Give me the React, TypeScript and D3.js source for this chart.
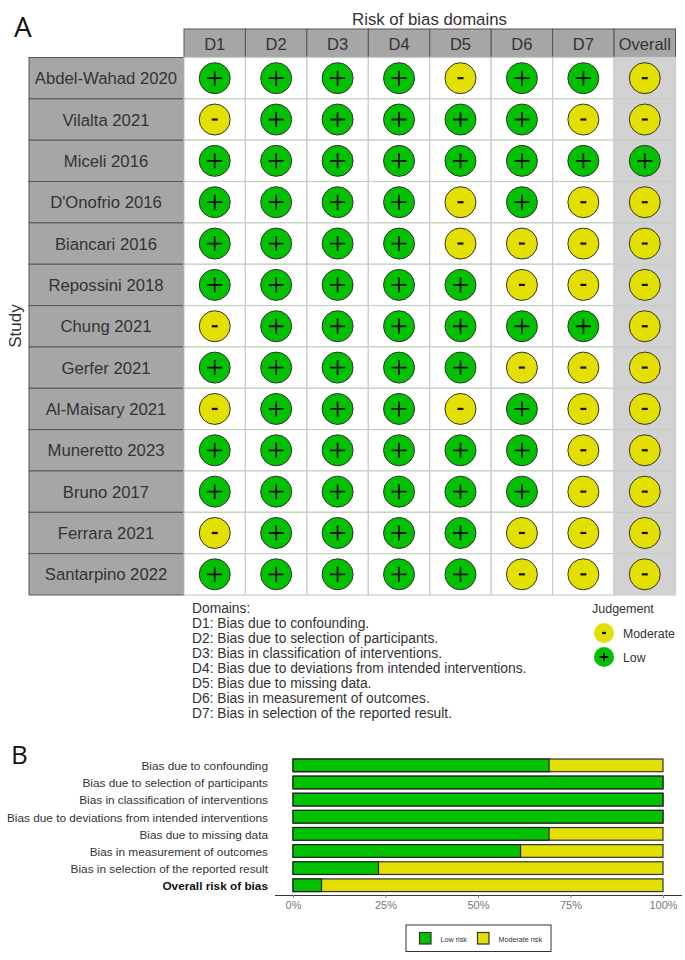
/**
 * Risk of bias figure: traffic light table (A) and summary bars (B)
 */

import { useEffect, useRef } from 'react'
import * as d3 from 'd3'

const domains = ['D1', 'D2', 'D3', 'D4', 'D5', 'D6', 'D7', 'Overall']
const studies = [
  'Abdel-Wahad 2020',
  'Vilalta 2021',
  'Miceli 2016',
  "D'Onofrio 2016",
  'Biancari 2016',
  'Repossini 2018',
  'Chung 2021',
  'Gerfer 2021',
  'Al-Maisary 2021',
  'Muneretto 2023',
  'Bruno 2017',
  'Ferrara 2021',
  'Santarpino 2022',
]
// one string per study, one judgement per domain
const judgements = [
  '++++-++-',
  '-+++++--',
  '++++++++',
  '++++-+--',
  '++++----',
  '+++++---',
  '-++++++-',
  '+++++---',
  '-+++-+--',
  '++++++--',
  '++++++--',
  '-++++---',
  '+++++---',
]
const domainNotes = [
  'Domains:',
  'D1: Bias due to confounding.',
  'D2: Bias due to selection of participants.',
  'D3: Bias in classification of interventions.',
  'D4: Bias due to deviations from intended interventions.',
  'D5: Bias due to missing data.',
  'D6: Bias in measurement of outcomes.',
  'D7: Bias in selection of the reported result.',
]
const barLabels = [
  'Bias due to confounding',
  'Bias due to selection of participants',
  'Bias in classification of interventions',
  'Bias due to deviations from intended interventions',
  'Bias due to missing data',
  'Bias in measurement of outcomes',
  'Bias in selection of the reported result',
  'Overall risk of bias',
]
const lowRisk = [69.2, 100, 100, 100, 69.2, 61.5, 23.1, 7.7]
const percentTicks = [0, 25, 50, 75, 100]

const GREEN = '#02c100'
const YELLOW = '#e3df00'
const FONT = '"Liberation Sans", Arial, sans-serif'
const INK = '#333333'

export default function App() {
  const svgRef = useRef<SVGSVGElement>(null)

  useEffect(() => {
    if (!svgRef.current) return
    const svg = d3.select(svgRef.current)
    svg.selectAll('*').remove()
    svg.style('font-family', FONT)

    // Panel letters
    svg.append('text').attr('x', 14).attr('y', 37).attr('font-size', 28)
      .attr('font-family', '"Open Sans", sans-serif').attr('fill', '#111').text('A')
    svg.append('text').attr('x', 11).attr('y', 764).attr('font-size', 26)
      .attr('font-family', '"Open Sans", sans-serif').attr('fill', '#111').text('B')

    // Panel A scales
    const xCol = d3.scaleBand<string>().domain(domains).range([184, 675.5])
    const yRow = d3.scaleBand<string>().domain(studies).range([57.5, 595])
    const radius = 15.5

    svg.append('text').attr('x', 429.5).attr('y', 24.5).attr('text-anchor', 'middle')
      .attr('font-size', 16.8).attr('fill', INK).text('Risk of bias domains')

    // Header strip
    const head = svg.append('g').selectAll('g').data(domains).join('g')
    head.append('rect')
      .attr('x', (d) => xCol(d)!)
      .attr('y', 29)
      .attr('width', xCol.bandwidth())
      .attr('height', 28.5)
      .attr('fill', '#a6a6a6')
      .attr('stroke', '#555')
      .attr('stroke-width', 1)
    head.append('text')
      .attr('x', (d) => xCol(d)! + xCol.bandwidth() / 2)
      .attr('y', 49.5)
      .attr('text-anchor', 'middle')
      .attr('font-size', 16.5)
      .attr('fill', INK)
      .text((d) => d)

    // Study strip
    const side = svg.append('g').selectAll('g').data(studies).join('g')
    side.append('rect')
      .attr('x', 29)
      .attr('y', (d) => yRow(d)!)
      .attr('width', 155)
      .attr('height', yRow.bandwidth())
      .attr('fill', '#a6a6a6')
      .attr('stroke', '#555')
      .attr('stroke-width', 1)
    side.append('text')
      .attr('x', 106)
      .attr('y', (d) => yRow(d)! + yRow.bandwidth() / 2 + 6)
      .attr('text-anchor', 'middle')
      .attr('font-size', 16.7)
      .attr('fill', INK)
      .text((d) => d)

    svg.append('text')
      .attr('transform', 'translate(21,326) rotate(-90)')
      .attr('text-anchor', 'middle')
      .attr('font-size', 17)
      .attr('fill', INK)
      .text('Study')

    // Table cells
    const cells = studies.flatMap((study, i) =>
      domains.map((domain, j) => ({ study, domain, value: judgements[i][j] }))
    )
    const cell = svg.append('g').selectAll('g').data(cells).join('g')
      .attr('transform', (d) => `translate(${xCol(d.domain)},${yRow(d.study)})`)
    cell.append('rect')
      .attr('width', xCol.bandwidth())
      .attr('height', yRow.bandwidth())
      .attr('fill', (d) => (d.domain === 'Overall' ? '#d2d2d2' : '#ffffff'))
      .attr('stroke', '#c4d0c0')
      .attr('stroke-width', 1.2)
    const cx = xCol.bandwidth() / 2
    const cy = yRow.bandwidth() / 2
    cell.append('circle')
      .attr('cx', cx)
      .attr('cy', cy)
      .attr('r', radius)
      .attr('fill', (d) => (d.value === '+' ? GREEN : YELLOW))
      .attr('stroke', '#333')
      .attr('stroke-width', 1)
    const drawSign = (
      sel: d3.Selection<any, { value: string }, any, any>,
      x: number,
      y: number,
      plus: number,
      minus: number
    ) => {
      sel.append('path')
        .attr('d', (d) =>
          d.value === '+'
            ? `M${x - plus},${y}H${x + plus}M${x},${y - plus}V${y + plus}`
            : `M${x - minus},${y}H${x + minus}`
        )
        .attr('stroke', '#111')
        .attr('stroke-width', (d) => (d.value === '+' ? 1.8 : 2.2))
        .attr('fill', 'none')
    }
    drawSign(cell, cx, cy, 7.5, 3)

    // Domain notes
    const yNote = d3.scaleBand<string>().domain(domainNotes).range([600, 720.5])
    svg.append('g').selectAll('text').data(domainNotes).join('text')
      .attr('x', 192)
      .attr('y', (d) => yNote(d)! + 12.5)
      .attr('font-size', 13.8)
      .attr('fill', INK)
      .text((d) => d)

    // Judgement legend
    const legendKeys = [
      { label: 'Moderate', value: '-' },
      { label: 'Low', value: '+' },
    ]
    svg.append('text').attr('x', 592).attr('y', 613).attr('font-size', 12.5)
      .attr('fill', INK).text('Judgement')
    const yKey = d3.scaleBand<string>().domain(legendKeys.map((d) => d.label)).range([621, 669])
    const key = svg.append('g').selectAll('g').data(legendKeys).join('g')
      .attr('transform', (d) => `translate(0,${yKey(d.label)})`)
    key.append('circle')
      .attr('cx', 604)
      .attr('cy', yKey.bandwidth() / 2)
      .attr('r', 10)
      .attr('fill', (d) => (d.value === '+' ? GREEN : YELLOW))
    drawSign(key, 604, yKey.bandwidth() / 2, 4.5, 2)
    key.append('text')
      .attr('x', 623)
      .attr('y', yKey.bandwidth() / 2 + 4.5)
      .attr('font-size', 12.3)
      .attr('fill', INK)
      .text((d) => d.label)

    // Panel B scales
    const xPct = d3.scaleLinear().domain([0, 100]).range([293, 663])
    const yBar = d3.scaleBand<string>().domain(barLabels).range([756.8, 893.8]).paddingInner(0.26).paddingOuter(0.13)

    svg.append('g').selectAll('text').data(barLabels).join('text')
      .attr('x', 268)
      .attr('y', (d) => yBar(d)! + yBar.bandwidth() / 2 + 4.8)
      .attr('text-anchor', 'end')
      .attr('font-size', 11.8)
      .attr('font-weight', (d) => (d === 'Overall risk of bias' ? 700 : 400))
      .attr('fill', (d) => (d === 'Overall risk of bias' ? '#111' : INK))
      .text((d) => d)

    const bars = barLabels.map((label, i) => ({ label, low: lowRisk[i] }))
    const bar = svg.append('g').selectAll('g').data(bars).join('g')
    bar.append('rect')
      .attr('x', xPct(0))
      .attr('y', (d) => yBar(d.label)!)
      .attr('width', xPct(100) - xPct(0))
      .attr('height', yBar.bandwidth())
      .attr('fill', YELLOW)
      .attr('stroke', '#333')
      .attr('stroke-width', 1.2)
    bar.append('rect')
      .attr('x', xPct(0))
      .attr('y', (d) => yBar(d.label)!)
      .attr('width', (d) => xPct(d.low) - xPct(0))
      .attr('height', yBar.bandwidth())
      .attr('fill', GREEN)
      .attr('stroke', '#222')
      .attr('stroke-width', 1.2)

    // Percent axis
    const axis = svg.append('g')
      .attr('transform', 'translate(0,895)')
      .call(
        d3.axisBottom(xPct)
          .tickValues(percentTicks)
          .tickFormat((d) => `${d}%`)
          .tickSizeInner(3)
          .tickSizeOuter(0)
          .tickPadding(3)
      )
    axis.select('.domain').attr('d', 'M275,0.5H682').attr('stroke', '#333')
    axis.selectAll('.tick line').attr('stroke', '#888')
    axis.selectAll('text')
      .attr('font-family', FONT)
      .attr('font-size', 11)
      .attr('fill', '#777')

    // Panel B legend
    svg.append('rect').attr('x', 406).attr('y', 925).attr('width', 145).attr('height', 26.5)
      .attr('fill', '#fff').attr('stroke', '#333').attr('stroke-width', 1)
    const barKeys = [
      { label: 'Low risk', color: GREEN, x: 419.5 },
      { label: 'Moderate risk', color: YELLOW, x: 477.5 },
    ]
    const barKey = svg.append('g').selectAll('g').data(barKeys).join('g')
    barKey.append('rect')
      .attr('x', (d) => d.x)
      .attr('y', 932.5)
      .attr('width', 11.5)
      .attr('height', 11.5)
      .attr('fill', (d) => d.color)
      .attr('stroke', '#333')
      .attr('stroke-width', 1.2)
    barKey.append('text')
      .attr('x', (d) => d.x + 21)
      .attr('y', 941.5)
      .attr('font-size', 7.2)
      .attr('fill', INK)
      .text((d) => d.label)
  }, [])

  return (
    <svg
      ref={svgRef}
      width={685}
      height={960}
      style={{ position: 'absolute', left: 0, top: 0, background: '#fff' }}
    />
  )
}
